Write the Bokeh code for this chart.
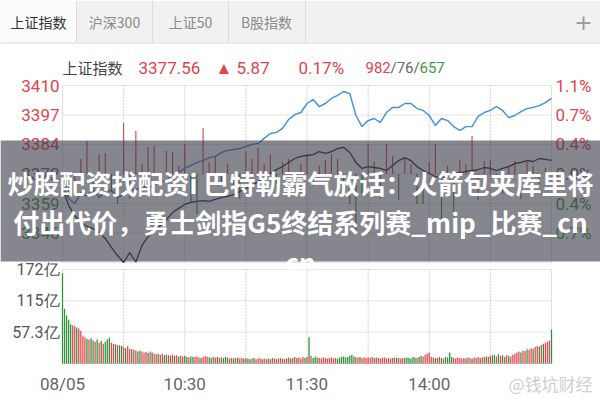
from bokeh.plotting import figure
from bokeh.models import Range1d
from bokeh.embed import file_html
from bokeh.resources import INLINE
from bokeh.core.properties import value

# ---------------- session data ----------------
TABS = ["上证指数", "沪深300", "上证50", "B股指数"]
INDEX_NAME = "上证指数"
PREV_CLOSE = 3371.69
LAST_PRICE = 3377.56
CHANGE = 5.87
CHANGE_PCT = 0.17
ADVANCERS, UNCHANGED, DECLINERS = 982, 76, 657

PRICE_TICKS = [3409.99, 3397.22, 3384.46, 3371.69, 3358.92, 3346.16, 3333.39]
PRICE_LABELS = ["3410", "3397", "3384", "3372", "3359", "3346"]
PCT_LABELS = ["1.1%", "0.7%", "0.4%", "0.0%", "0.4%", "0.7%"]
VOL_TICKS = [171.9, 114.6, 57.3]
VOL_LABELS = ["172亿", "115亿", "57.3亿"]
TIME_TICKS = [0, 60, 120, 180]
TIME_LABELS = ["08/05", "10:30", "11:30", "14:00"]

# minute-of-session for the 3-minute samples
MINUTES_3 = list(range(0, 241, 3))

# index level (black) and leading line (blue), every 3 minutes
INDEX_LINE = [
    3365.4, 3358.1, 3353.7, 3350.7, 3349.0, 3348.1, 3346.4, 3343.8, 3339.9, 3336.4,
    3333.4, 3337.7, 3333.6, 3340.7, 3344.6, 3346.8, 3349.4, 3352.0, 3355.0, 3356.8,
    3358.5, 3359.4, 3359.8, 3360.2, 3359.8, 3360.7, 3361.5, 3362.0, 3362.8, 3364.1,
    3365.4, 3366.7, 3368.4, 3370.2, 3371.9, 3373.6, 3374.9, 3376.7, 3378.4, 3379.3,
    3379.7, 3380.1, 3381.4, 3380.6, 3381.4, 3382.7, 3383.2, 3381.0, 3376.7, 3374.1,
    3374.9, 3374.5, 3374.1, 3373.2, 3375.4, 3377.5, 3378.8, 3377.5, 3374.9, 3373.2,
    3371.9, 3370.6, 3370.2, 3370.6, 3371.9, 3372.3, 3372.8, 3373.2, 3373.6, 3374.5,
    3374.1, 3373.2, 3374.1, 3374.9, 3376.2, 3376.7, 3377.5, 3377.1, 3378.4, 3378.0,
    3377.56,
]
LEAD_LINE = [
    3366.7, 3361.1, 3358.9, 3363.7, 3362.0, 3365.4, 3361.5, 3364.1, 3364.6, 3361.5,
    3362.8, 3365.4, 3364.6, 3366.3, 3365.4, 3367.2, 3368.4, 3368.9, 3371.0, 3372.3,
    3374.1, 3375.4, 3376.7, 3377.5, 3378.8, 3379.3, 3381.0, 3381.9, 3382.3, 3382.7,
    3383.6, 3384.5, 3384.9, 3387.1, 3389.2, 3389.7, 3391.4, 3395.3, 3397.4, 3398.3,
    3402.2, 3403.9, 3400.9, 3402.2, 3404.4, 3405.7, 3407.4, 3406.5, 3397.0, 3392.2,
    3394.8, 3395.7, 3394.0, 3398.3, 3400.5, 3400.5, 3402.2, 3402.2, 3400.0, 3399.2,
    3397.0, 3392.7, 3395.7, 3394.8, 3392.2, 3390.5, 3392.2, 3392.2, 3396.6, 3398.3,
    3399.2, 3400.9, 3399.2, 3396.1, 3397.0, 3398.7, 3400.0, 3400.5, 3401.3, 3402.6,
    3404.4,
]
# buy/sell strength around the previous close (positive = red, negative = green)
STRENGTH = [
    0.0, -10.4, -8.7, 6.5, 14.3, -8.7, 8.7, 9.1, -7.8, -13.0,
    22.1, -10.8, 18.6, 4.3, 11.7, 12.1, -4.3, 10.0, 9.5, 3.5,
    13.0, -12.1, -17.3, 19.9, 5.2, 7.4, -3.5, 4.3, -5.2, -10.8,
    10.0, 6.5, 11.3, 4.3, 8.7, -4.3, 5.2, 6.5, -3.5, 4.3,
    8.7, -5.2, 3.5, 6.1, 8.7, 6.5, -7.8, -13.0, -25.1, -8.7,
    13.0, 5.2, -10.8, 13.0, 7.8, -11.3, 6.9, 4.3, -13.0, -13.0,
    5.2, 13.0, -19.5, 3.5, -18.6, 6.1, 4.3, 16.4, -11.3, 5.6,
    6.1, -4.3, -8.7, 3.5, 5.6, -10.8, 5.2, 3.5, -4.3, 2.6,
    0.0,
]

# turnover per minute in 亿 (sign: + up minute / red, - down minute / green)
VOLUME = [
    -165, -100, -88, -80, -72, 70, 68, -66, 64, 60,
    50, 48, -45, 44, -46, -42, 40, -44, 38, -41,
    36, -40, -44, -47, 38, 36, -35, 34, -33, -32,
    30, -28, 32, 27, -26, 25, 24, -22, -24, 22,
    20, 21, -19, 22, -20, 18, 17, -18, 16, 18,
    -15, -16, 15, 14, 16, -14, 15, -13, 14, 13,
    -14, -12, 11, -13, -12, 12, 13, 11, -10, 12,
    14, 12, -11, -10, 12, 11, -12, 10, 11, -10,
    -12, -11, 9, 10, -9, 10, -11, 9, 10, -9,
    10, -9, -8, 9, -10, 8, 9, 10, -8, 9,
    8, -9, 8, 10, 9, -8, 9, 10, -9, 8,
    9, 11, -9, 10, 12, -10, 11, 9, 12, -10,
    12, -48, 14, -10, -13, -11, 10, 9, 11, 10,
    9, 10, 11, 9, 10, -9, -11, -12, -13, -11,
    -12, -14, -16, -13, 12, 11, -12, 10, 11, 10,
    11, 10, 12, -10, 11, 10, 9, 10, 11, 9,
    10, 9, 10, 11, -10, 10, 9, 10, -10, -11,
    -10, -9, -12, -11, 10, -12, -14, 13, 16, 18,
    20, 12, 11, -10, 10, 12, -10, 9, -12, -11,
    -20, -12, 10, 9, 11, 10, 9, 10, -9, 11,
    10, -9, 11, 10, 12, -10, 11, 12, -13, 12,
    14, -15, -16, 13, -17, 14, -15, 12, 15, -14,
    13, 16, 18, 20, 22, -20, 24, 23, -26, 25,
    28, -27, 30, 32, -31, 34, -36, 38, 40, 42,
    -62,
]
MINUTES = list(range(len(VOLUME)))

BANNER_LINES = [
    "炒股配资找配资i 巴特勒霸气放话：火箭包夹库里将",
    "付出代价，勇士剑指G5终结系列赛_mip_比赛_cn",
    "cn",
]
WATERMARK = "@钱坑财经"

# ---------------- layout (canvas pixels) ----------------
W, H = 600, 400
X_LEFT, X_RIGHT = 62, 551          # session open / close
PRICE_TOP, PRICE_BOTTOM = 85, 262  # first / last price tick
VOL_TOP, VOL_ZERO = 269, 363       # top volume tick / zero line

RED = "#e2444c"
GREEN = "#3f9a45"
GRAY = "#666666"
NUM_FONT = value("Roboto")
CJK_FONT = value("Noto Sans CJK SC")

mpp = 240 / (X_RIGHT - X_LEFT)
ppp = (PRICE_TICKS[0] - PRICE_TICKS[-1]) / (PRICE_BOTTOM - PRICE_TOP)
vpp = VOL_TICKS[0] / (VOL_ZERO - VOL_TOP)

p = figure(
    width=W, height=H, output_backend="svg", toolbar_location=None,
    x_range=Range1d(-X_LEFT * mpp, 240 + (W - X_RIGHT) * mpp),
    y_range=Range1d(PRICE_TICKS[-1] - (H - PRICE_BOTTOM) * ppp,
                    PRICE_TICKS[0] + PRICE_TOP * ppp),
    min_border=0, x_axis_location=None, y_axis_location=None,
)
p.extra_y_ranges = {
    "vol": Range1d(-(H - VOL_ZERO) * vpp, VOL_ZERO * vpp),
    "py": Range1d(H, 0),
}
p.extra_x_ranges = {"px": Range1d(0, W)}
p.grid.visible = False
p.outline_line_color = None
p.background_fill_color = "white"
p.border_fill_color = "white"

# ---------------- tab bar ----------------
p.quad(left=[0], right=[W], top=[0], bottom=[42], fill_color="#f1f1f1",
       line_color=None, x_range_name="px", y_range_name="py")
p.quad(left=[0], right=[76], top=[0], bottom=[42], fill_color="#fbfbfb",
       line_color=None, x_range_name="px", y_range_name="py")
p.segment(x0=[76, 152, 228, 305], y0=[0] * 4, x1=[76, 152, 228, 305], y1=[42] * 4,
          line_color="#dcdcdc", line_width=1, x_range_name="px", y_range_name="py")
p.segment(x0=[0], y0=[42.5], x1=[W], y1=[42.5], line_color="#d8d8d8",
          x_range_name="px", y_range_name="py")
p.text(x=[38, 114, 190, 266], y=[21] * 4, text=TABS,
       text_color=["#333333", "#8a8a8a", "#8a8a8a", "#8a8a8a"],
       text_font=CJK_FONT, text_font_size="14px", text_align="center",
       text_baseline="middle", x_range_name="px", y_range_name="py")
p.text(x=[583], y=[21], text=["+"], text_color="#9a9a9a", text_font=value("DejaVu Sans"),
       text_font_size="22px", text_align="center", text_baseline="middle",
       x_range_name="px", y_range_name="py")

# ---------------- quote header ----------------
p.text(x=[62], y=[67], text=[INDEX_NAME], text_color="#444444", text_font=CJK_FONT,
       text_font_size="15px", text_baseline="middle", x_range_name="px", y_range_name="py")
p.text(x=[138, 215, 298], y=[67] * 3,
       text=[f"{LAST_PRICE:.2f}", f"▲ {CHANGE:.2f}", f"{CHANGE_PCT:.2f}%"],
       text_color=RED, text_font=NUM_FONT, text_font_size="17px", text_baseline="middle",
       x_range_name="px", y_range_name="py")
p.text(x=[365, 390, 419], y=[67] * 3,
       text=[str(ADVANCERS), f"/{UNCHANGED}/", str(DECLINERS)],
       text_color=[RED, GRAY, GREEN], text_font=NUM_FONT, text_font_size="15px",
       text_baseline="middle", x_range_name="px", y_range_name="py")

# ---------------- grids ----------------
p.segment(x0=[0] * len(PRICE_TICKS), x1=[240] * len(PRICE_TICKS),
          y0=PRICE_TICKS, y1=PRICE_TICKS, line_color="#e4e4e4", line_width=1)
vol_lines = VOL_TICKS + [0]
p.segment(x0=[0] * 4, x1=[240] * 4, y0=vol_lines, y1=vol_lines,
          line_color=["#e4e4e4", "#e4e4e4", "#e4e4e4", "#cfcfcf"], y_range_name="vol")
solid_x = [0, 60, 120, 180, 240]
dotted_x = [30, 90, 150, 210]
p.segment(x0=solid_x, x1=solid_x, y0=[PRICE_TICKS[0]] * 5, y1=[PRICE_TICKS[-1]] * 5,
          line_color="#e0e0e0")
p.segment(x0=dotted_x, x1=dotted_x, y0=[PRICE_TICKS[0]] * 4, y1=[PRICE_TICKS[-1]] * 4,
          line_color="#a8a8a8", line_dash="1 2")
p.segment(x0=solid_x, x1=solid_x, y0=[VOL_TICKS[0]] * 5, y1=[0] * 5,
          line_color="#e0e0e0", y_range_name="vol")
p.segment(x0=dotted_x, x1=dotted_x, y0=[VOL_TICKS[0]] * 4, y1=[0] * 4,
          line_color="#a8a8a8", line_dash="1 2", y_range_name="vol")

# ---------------- price panel ----------------
strength_top = [PREV_CLOSE + s for s in STRENGTH]
strength_col = ["#d8434d" if s >= 0 else "#3a8e42" for s in STRENGTH]
p.vbar(x=MINUTES_3, width=0.55, bottom=PREV_CLOSE, top=strength_top,
       fill_color=strength_col, line_color=None)
p.line(MINUTES_3, LEAD_LINE, line_color="#3d8fdc", line_width=1.4)
p.line(MINUTES_3, INDEX_LINE, line_color="#303030", line_width=1.3)

# ---------------- volume panel ----------------
vol_h = [abs(v) for v in VOLUME]
vol_col = ["#e5464d" if v > 0 else "#2f8f3a" for v in VOLUME]
p.vbar(x=MINUTES, width=0.62, bottom=0, top=vol_h, fill_color=vol_col,
       line_color=None, y_range_name="vol")

# ---------------- axis labels ----------------
n_lab = len(PRICE_LABELS)
lab_col = [RED, RED, RED, GRAY, GREEN, GREEN]
p.text(x=[59] * n_lab, y=PRICE_TICKS[:n_lab], text=PRICE_LABELS, text_color=lab_col,
       text_font=NUM_FONT, text_font_size="17px", text_align="right",
       text_baseline="middle", x_range_name="px")
p.text(x=[555] * n_lab, y=PRICE_TICKS[:n_lab], text=PCT_LABELS, text_color=lab_col,
       text_font=NUM_FONT, text_font_size="17px", text_align="left",
       text_baseline="middle", x_range_name="px")
p.text(x=[59] * 3, y=VOL_TICKS, text=VOL_LABELS, text_color="#555555",
       text_font=NUM_FONT, text_font_size="16px", text_align="right",
       text_baseline="middle", x_range_name="px", y_range_name="vol")
p.text(x=TIME_TICKS, y=[383] * 4, text=TIME_LABELS, text_color="#666666",
       text_font=NUM_FONT, text_font_size="17px", text_align="center",
       text_baseline="middle", y_range_name="py")
p.text(x=[592], y=[383], text=[WATERMARK], text_color="#cfcfcf", text_font=CJK_FONT,
       text_font_size="17px", text_align="right", text_baseline="middle",
       x_range_name="px", y_range_name="py")

# ---------------- headline banner ----------------
p.quad(left=[0], right=[W], top=[140], bottom=[261], fill_color="#3c3c48",
       fill_alpha=0.62, line_color=None, x_range_name="px", y_range_name="py")
p.text(x=[300, 300, 300], y=[182, 221, 261], text=BANNER_LINES, text_color="white",
       text_font=CJK_FONT, text_font_size="26px", text_font_style="bold",
       text_align="center", text_baseline="middle", x_range_name="px", y_range_name="py")

open("out.html", "w").write(file_html(p, INLINE))
